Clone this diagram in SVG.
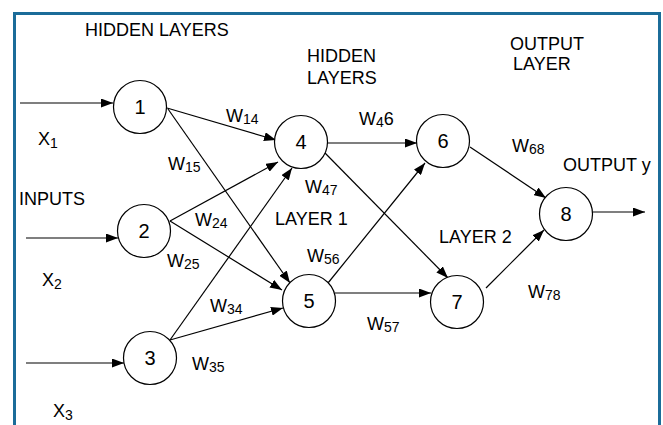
<svg xmlns="http://www.w3.org/2000/svg" width="663" height="425" viewBox="0 0 663 425">
  <defs>
    <marker id="arrow" markerUnits="userSpaceOnUse" markerWidth="12" markerHeight="9" refX="12" refY="4.5" orient="auto">
      <path d="M0,0 L12,4.5 L0,9 z" fill="#000"/>
    </marker>
  </defs>
  <style>
    text { font-family: "Liberation Sans", Arial, Helvetica, sans-serif; fill: #000; }
    .lbl { font-size: 18px; }
    .sub { font-size: 14px; }
    .num { font-size: 20px; text-anchor: middle; }
    .node circle { fill: #fff; stroke: #000; stroke-width: 1.2; }
    .edge { stroke: #000; stroke-width: 1.2; fill: none; marker-end: url(#arrow); }
    .frame { fill: none; stroke: #1b6c99; stroke-width: 3; }
  </style>

  <rect width="663" height="425" fill="#fff"/>
  <rect class="frame" x="14.5" y="13.5" width="645" height="500"/>

  <!-- connectors -->
  <g id="connectors">
    <line class="edge" x1="20" y1="103" x2="113" y2="103"/>
    <line class="edge" x1="26" y1="238" x2="118" y2="238"/>
    <line class="edge" x1="26" y1="363" x2="124" y2="363"/>
    <line class="edge" x1="167" y1="108" x2="276" y2="140"/>
    <line class="edge" x1="168" y1="109" x2="290" y2="283"/>
    <line class="edge" x1="170" y1="221" x2="278" y2="162"/>
    <line class="edge" x1="170" y1="221" x2="282" y2="290"/>
    <line class="edge" x1="170" y1="340" x2="292" y2="168"/>
    <line class="edge" x1="170" y1="340" x2="283" y2="308"/>
    <line class="edge" x1="328" y1="143" x2="417" y2="143"/>
    <line class="edge" x1="325" y1="153" x2="448" y2="278"/>
    <line class="edge" x1="328" y1="283" x2="425" y2="163"/>
    <line class="edge" x1="335" y1="293" x2="431" y2="293"/>
    <line class="edge" x1="470" y1="147" x2="546" y2="198"/>
    <line class="edge" x1="486" y1="288" x2="544" y2="230"/>
    <line class="edge" x1="593" y1="212" x2="645" y2="212"/>
  </g>

  <!-- neurons -->
  <g id="node1" class="node"><circle cx="140" cy="107" r="26.5"/><text class="num" x="140" y="114">1</text></g>
  <g id="node2" class="node"><circle cx="144" cy="231" r="26.5"/><text class="num" x="144" y="238">2</text></g>
  <g id="node3" class="node"><circle cx="150" cy="358" r="26.5"/><text class="num" x="150" y="365">3</text></g>
  <g id="node4" class="node"><circle cx="301" cy="142" r="26.5"/><text class="num" x="301" y="149">4</text></g>
  <g id="node5" class="node"><circle cx="309" cy="301" r="26.5"/><text class="num" x="309" y="308">5</text></g>
  <g id="node6" class="node"><circle cx="443" cy="141" r="26.5"/><text class="num" x="443" y="148">6</text></g>
  <g id="node7" class="node"><circle cx="457" cy="302" r="26.5"/><text class="num" x="457" y="309">7</text></g>
  <g id="node8" class="node"><circle cx="566" cy="214" r="26.5"/><text class="num" x="566" y="221">8</text></g>

  <!-- section titles -->
  <g id="titles">
    <text class="lbl" x="85" y="36">HIDDEN LAYERS</text>
    <text class="lbl" x="307" y="62">HIDDEN</text>
    <text class="lbl" x="307" y="84">LAYERS</text>
    <text class="lbl" x="510" y="50">OUTPUT</text>
    <text class="lbl" x="513" y="70">LAYER</text>
    <text class="lbl" x="19" y="205">INPUTS</text>
    <text class="lbl" x="275" y="225">LAYER 1</text>
    <text class="lbl" x="439" y="243">LAYER 2</text>
    <text class="lbl" x="563" y="171">OUTPUT y</text>
  </g>

  <!-- inputs and weights -->
  <g id="labels">
    <text class="lbl" x="38" y="145">X<tspan class="sub" dy="3">1</tspan></text>
    <text class="lbl" x="42" y="286">X<tspan class="sub" dy="3">2</tspan></text>
    <text class="lbl" x="53" y="417">X<tspan class="sub" dy="3">3</tspan></text>
    <text class="lbl" x="226" y="122">W<tspan class="sub" dy="2">14</tspan></text>
    <text class="lbl" x="168" y="170">W<tspan class="sub" dy="2">15</tspan></text>
    <text class="lbl" x="195" y="226">W<tspan class="sub" dy="2">24</tspan></text>
    <text class="lbl" x="167" y="267">W<tspan class="sub" dy="2">25</tspan></text>
    <text class="lbl" x="210" y="312">W<tspan class="sub" dy="2">34</tspan></text>
    <text class="lbl" x="192" y="370">W<tspan class="sub" dy="2">35</tspan></text>
    <text class="lbl" x="359" y="125">W<tspan class="sub" dy="2">4</tspan><tspan dy="-2">6</tspan></text>
    <text class="lbl" x="305" y="193">W<tspan class="sub" dy="2">47</tspan></text>
    <text class="lbl" x="307" y="262">W<tspan class="sub" dy="2">56</tspan></text>
    <text class="lbl" x="367" y="330">W<tspan class="sub" dy="2">57</tspan></text>
    <text class="lbl" x="512" y="152">W<tspan class="sub" dy="2">68</tspan></text>
    <text class="lbl" x="528" y="298">W<tspan class="sub" dy="2">78</tspan></text>
  </g>
</svg>
